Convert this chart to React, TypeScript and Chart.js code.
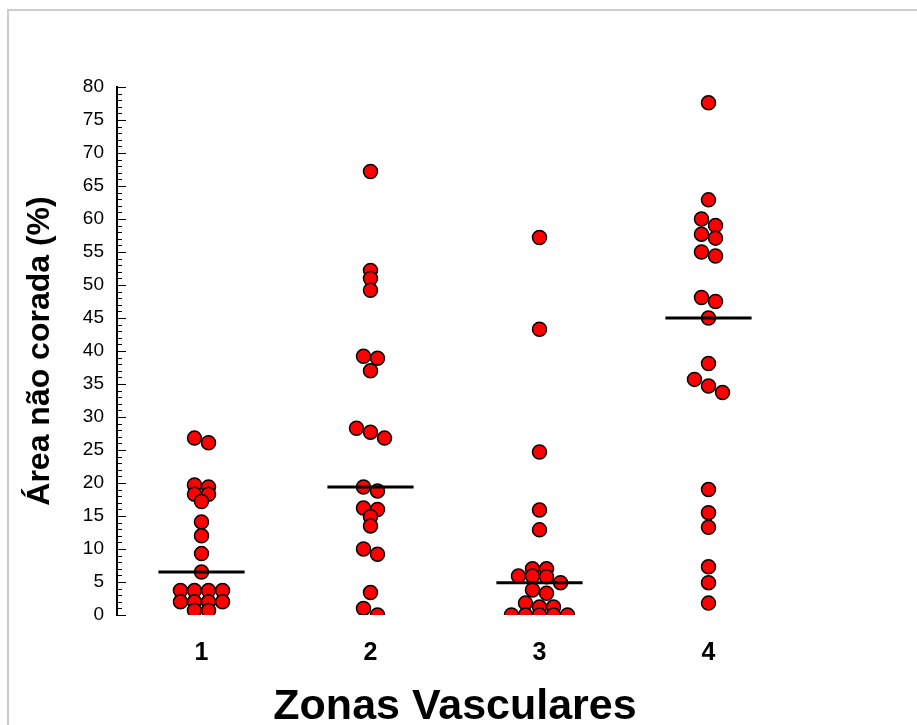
import React, { useEffect, useRef } from 'react';
import { Chart, registerables } from 'chart.js';

Chart.register(...registerables);

// ---- Data ----
const categories = ['1', '2', '3', '4'];
const zone1 = [26.8, 26.1, 19.7, 19.4, 18.3, 18.3, 17.2, 14.1, 12.0, 9.3, 6.5, 3.7, 3.7, 3.7, 3.7, 2.0, 2.0, 2.0, 2.0, 0.7, 0.7];
const zone2 = [67.2, 52.2, 51.0, 49.2, 39.2, 38.9, 37.0, 28.3, 27.7, 26.8, 19.4, 18.8, 16.2, 16.0, 14.9, 13.5, 10.0, 9.2, 3.4, 1.0, 0.0];
const zone3 = [57.2, 43.3, 24.7, 15.9, 12.9, 7.0, 7.0, 5.9, 5.9, 5.8, 4.9, 3.8, 3.3, 1.8, 1.2, 1.2, 0.0, 0.0, 0.0, 0.0, 0.0];
const zone4 = [77.6, 62.9, 60.0, 59.0, 57.7, 57.1, 55.0, 54.4, 48.1, 47.5, 45.0, 38.1, 35.7, 34.7, 33.7, 19.0, 15.5, 13.3, 7.3, 4.9, 1.8];
const zones = [zone1, zone2, zone3, zone4];

const yMin = 0;
const yMax = 80;
const yMajorStep = 5;
const yMinorStep = 1;

const xTitle = 'Zonas Vasculares';
const yTitle = 'Área não corada (%)';

const FONT = "'Liberation Sans', Arial, Helvetica, sans-serif";

// ---- helpers ----
function median(arr: number[]): number {
  const s = [...arr].sort((a, b) => a - b);
  const m = Math.floor(s.length / 2);
  return s.length % 2 ? s[m] : (s[m - 1] + s[m]) / 2;
}

// simple dot-plot layout: near-equal values are put side by side
function swarm(values: number[], center: number, spacing: number, threshold: number) {
  const sorted = [...values].sort((a, b) => b - a);
  const groups: number[][] = [];
  let cur: number[] = [];
  for (const v of sorted) {
    if (cur.length && cur[cur.length - 1] - v > threshold) {
      groups.push(cur);
      cur = [];
    }
    cur.push(v);
  }
  if (cur.length) groups.push(cur);
  const pts: { x: number; y: number }[] = [];
  for (const g of groups) {
    g.forEach((v, i) => pts.push({ x: center + (i - (g.length - 1) / 2) * spacing, y: v }));
  }
  return pts;
}

const axisPlugin = {
  id: 'insideAxis',
  beforeDatasetsDraw(chart: any) {
    const ys = chart.scales.y;
    const ctx = chart.ctx;
    const x0 = chart.chartArea.left;
    ctx.save();
    ctx.strokeStyle = '#000';
    ctx.lineWidth = 2;
    ctx.beginPath();
    ctx.moveTo(x0, ys.getPixelForValue(yMax) - 1);
    ctx.lineTo(x0, ys.getPixelForValue(yMin) + 1);
    ctx.stroke();
    ctx.lineWidth = 1;
    ctx.beginPath();
    for (let v = yMin; v <= yMax; v += yMinorStep) {
      const py = Math.round(ys.getPixelForValue(v)) + 0.5;
      const len = v % yMajorStep === 0 ? 9 : 5;
      ctx.moveTo(x0, py);
      ctx.lineTo(x0 + len, py);
    }
    ctx.stroke();
    ctx.restore();
  },
};

export default function App() {
  const canvasRef = useRef<HTMLCanvasElement | null>(null);

  useEffect(() => {
    if (!canvasRef.current) return;
    const spacing = 0.083;
    const halfLine = 0.255;

    const pointSets = zones.map((z, i) => ({
      type: 'scatter' as const,
      label: 'Zona ' + categories[i],
      data: swarm(z, i + 1, spacing, 1.05),
      backgroundColor: '#ff0000',
      borderColor: '#000000',
      borderWidth: 1.5,
      pointRadius: 7,
      pointHoverRadius: 7,
      order: 2,
    }));

    const medianSets = zones.map((z, i) => {
      const m = median(z);
      return {
        type: 'line' as const,
        label: 'Mediana ' + categories[i],
        data: [
          { x: i + 1 - halfLine, y: m },
          { x: i + 1 + halfLine, y: m },
        ],
        borderColor: '#000000',
        borderWidth: 3,
        pointRadius: 0,
        showLine: true,
        fill: false,
        order: 1,
      };
    });

    const chart = new Chart(canvasRef.current, {
      type: 'scatter',
      data: { datasets: [...pointSets, ...medianSets] as any },
      plugins: [axisPlugin],
      options: {
        animation: false,
        responsive: false,
        layout: { padding: { top: 87, right: 124, left: 0, bottom: 0 } },
        plugins: {
          legend: { display: false },
          tooltip: { enabled: false },
        },
        scales: {
          x: {
            type: 'linear',
            min: 0.5,
            max: 4.5,
            border: { display: false },
            grid: { display: false, drawTicks: false },
            afterBuildTicks: (scale: any) => {
              scale.ticks = categories.map((_, i) => ({ value: i + 1 }));
            },
            afterFit: (scale: any) => {
              scale.height = 110;
            },
            ticks: {
              color: '#000',
              padding: 23,
              font: { family: FONT, size: 25, weight: 'bold' },
              callback: (v: any) => categories[Math.round(Number(v)) - 1] ?? '',
            },
            title: {
              display: true,
              text: xTitle,
              color: '#000',
              font: { family: FONT, size: 43, weight: 'bold', lineHeight: 1 },
              padding: { top: 0, bottom: -4 },
            },
          },
          y: {
            type: 'linear',
            min: yMin,
            max: yMax,
            border: { display: false },
            grid: { display: false, drawTicks: false },
            afterFit: (scale: any) => {
              scale.width = 117;
            },
            ticks: {
              stepSize: yMajorStep,
              color: '#000',
              padding: 13,
              font: { family: FONT, size: 19 },
            },
            title: {
              display: true,
              text: yTitle,
              color: '#000',
              font: { family: FONT, size: 32, weight: 'bold', lineHeight: 1.2 },
              padding: { top: 21, bottom: 0 },
            },
          },
        },
      },
    });
    return () => chart.destroy();
  }, []);

  return (
    <div
      style={{
        position: 'fixed',
        left: 0,
        top: 0,
        width: 917,
        height: 725,
        overflow: 'hidden',
        background: '#ffffff',
      }}
    >
      <canvas ref={canvasRef} width={917} height={725} style={{ position: 'absolute', left: 0, top: 0 }} />
      <div
        style={{
          position: 'absolute',
          left: 7,
          top: 9,
          width: 2000,
          height: 2000,
          borderTop: '2px solid #cccccc',
          borderLeft: '2px solid #cccccc',
          pointerEvents: 'none',
        }}
      />
    </div>
  );
}
